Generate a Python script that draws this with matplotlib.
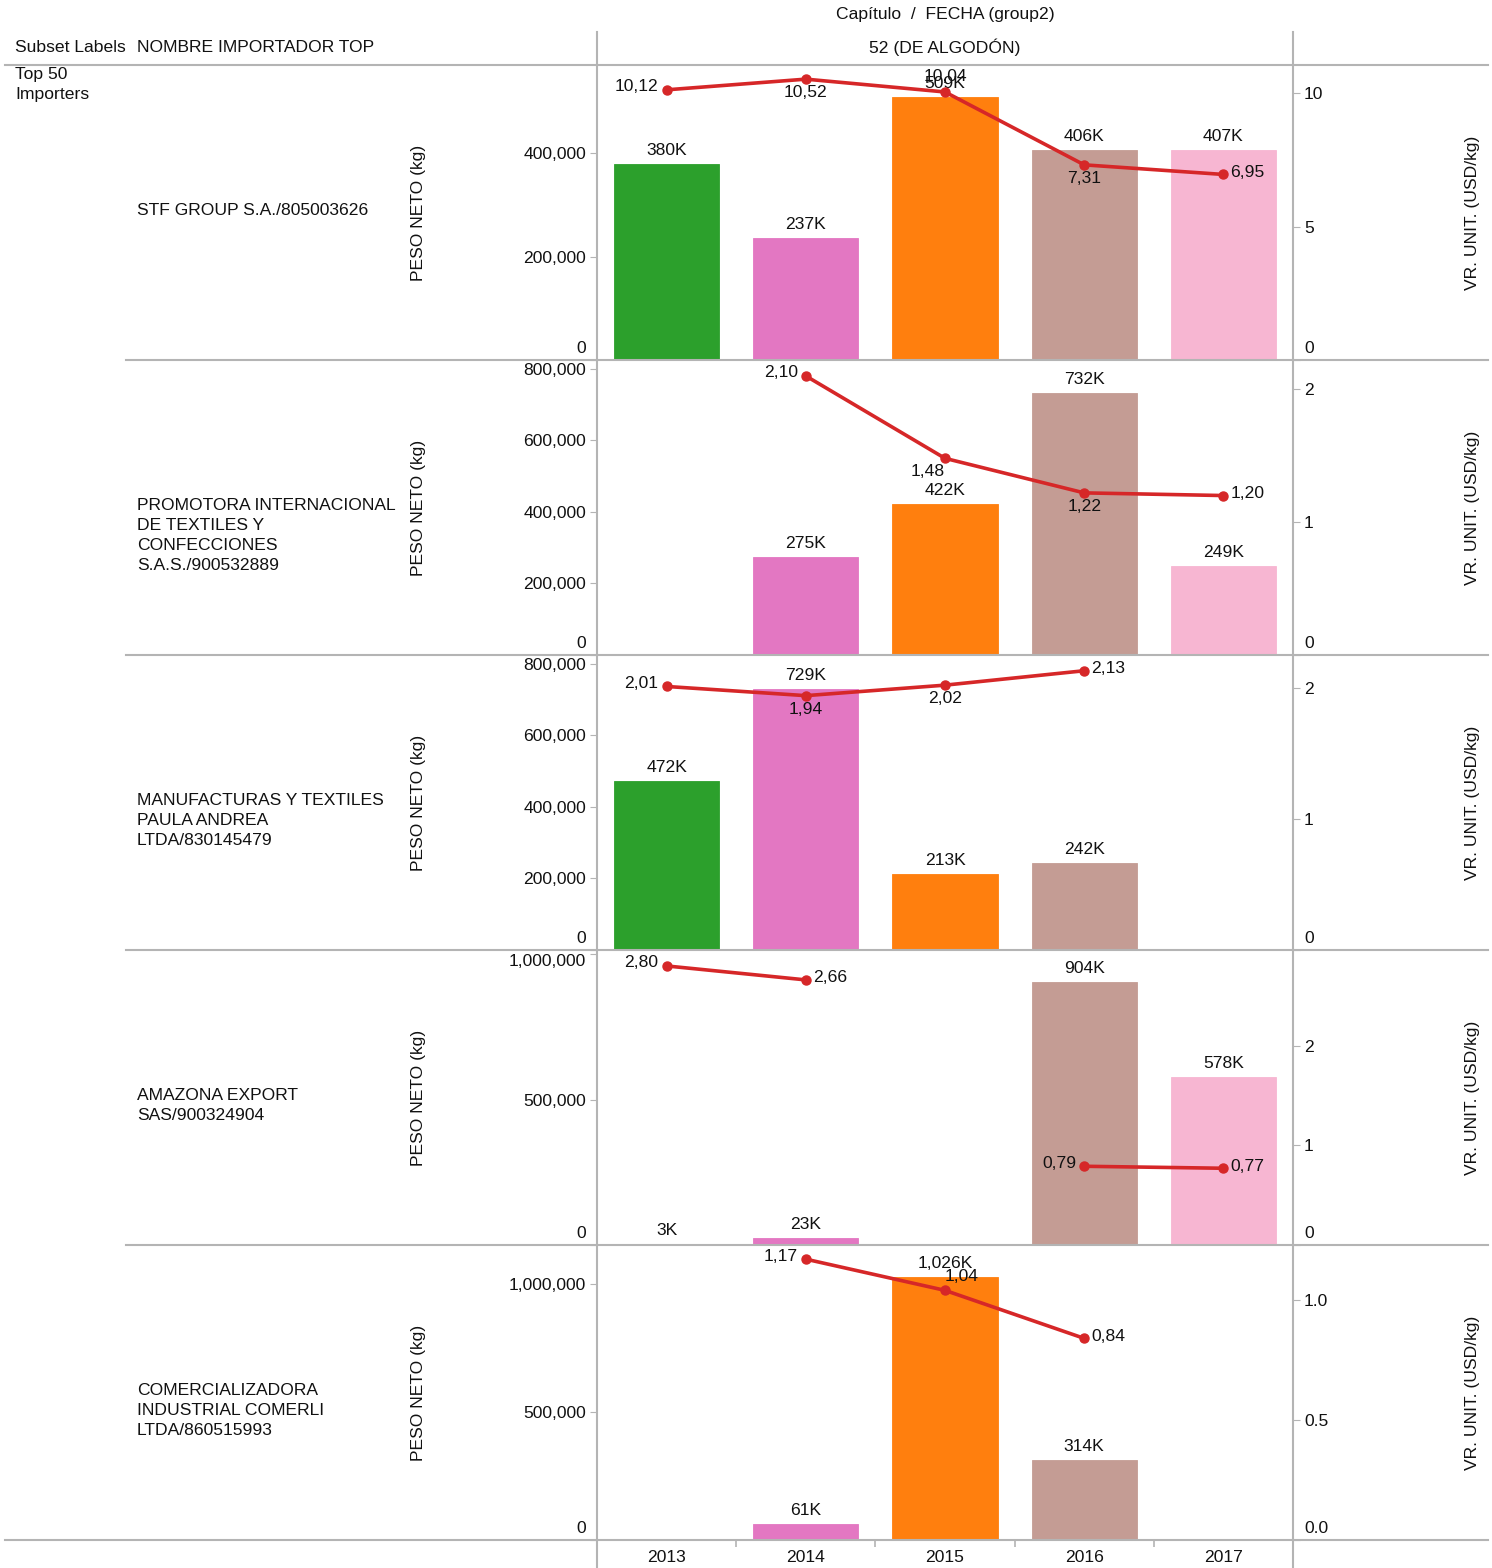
import numpy as np
import matplotlib.pyplot as plt
from matplotlib.lines import Line2D

plt.rcParams['font.family'] = ['Liberation Sans', 'DejaVu Sans']
plt.rcParams['font.size'] = 12.6

years = ['2013', '2014', '2015', '2016', '2017']
importers = ['STF GROUP S.A./805003626',
             'PROMOTORA INTERNACIONAL\nDE TEXTILES Y\nCONFECCIONES\nS.A.S./900532889',
             'MANUFACTURAS Y TEXTILES\nPAULA ANDREA\nLTDA/830145479',
             'AMAZONA EXPORT\nSAS/900324904',
             'COMERCIALIZADORA\nINDUSTRIAL COMERLI\nLTDA/860515993']

nan = np.nan
# peso neto (kg) por año
peso_stf = [380000, 237000, 509000, 406000, 407000]
peso_promotora = [nan, 275000, 422000, 732000, 249000]
peso_manufacturas = [472000, 729000, 213000, 242000, nan]
peso_amazona = [3000, 23000, nan, 904000, 578000]
peso_comerli = [nan, 61000, 1026000, 314000, nan]

# valor unitario (USD/kg)
vr_stf = [10.12, 10.52, 10.04, 7.31, 6.95]
vr_promotora = [nan, 2.10, 1.48, 1.22, 1.20]
vr_manufacturas = [2.01, 1.94, 2.02, 2.13, nan]
vr_amazona = [2.80, 2.66, nan, 0.79, 0.77]
vr_comerli = [nan, 1.17, 1.04, 0.84, nan]

peso = [peso_stf, peso_promotora, peso_manufacturas, peso_amazona, peso_comerli]
vr = [vr_stf, vr_promotora, vr_manufacturas, vr_amazona, vr_comerli]

left_ticks = [[0, 200000, 400000],
              [0, 200000, 400000, 600000, 800000],
              [0, 200000, 400000, 600000, 800000],
              [0, 500000, 1000000],
              [0, 500000, 1000000]]
right_ticks = [[0, 5, 10], [0, 1, 2], [0, 1, 2], [0, 1, 2], [0, 0.5, 1.0]]

# styling / layout
left_lim = [571000, 825000, 825000, 1014000, 1152000]
right_lim = [11.05, 2.22, 2.25, 2.96, 1.229]
label_pos = [['L', 'B', 'A', 'B', 'R'],
             [None, 'L', 'BL', 'B', 'R'],
             ['L', 'B', 'B', 'R', None],
             ['L', 'R', None, 'L', 'R'],
             [None, 'L', 'AR', 'R', None]]
bar_colors = ['#2ca02c', '#e377c2', '#ff7f0e', '#c49c94', '#f7b6d2']
line_color = '#d62728'
grid_c = '#b4b4b4'
txt_c = '#111111'

W, H = 1492, 1568
fig = plt.figure(figsize=(W / 100, H / 100), dpi=100)

def fx(px):
    return px / W

def fy(py):
    return 1 - py / H

def hline(y, x0, x1):
    fig.add_artist(Line2D([fx(x0), fx(x1)], [fy(y), fy(y)], color=grid_c, lw=1.5, zorder=5))

def vline(x, y0, y1):
    fig.add_artist(Line2D([fx(x), fx(x)], [fy(y0), fy(y1)], color=grid_c, lw=1.5, zorder=5))

offsets = {'L': (-8, 3, 'right', 'center'),
           'R': (7, 2, 'left', 'center'),
           'A': (0, 8, 'center', 'bottom'),
           'B': (0, -6, 'center', 'top'),
           'BL': (-17, -6, 'center', 'top'),
           'AR': (17, 6, 'center', 'bottom')}

row_tops = [65, 360, 655, 950, 1245]
row_h = 295
x = np.arange(len(years))

for i in range(5):
    top = row_tops[i]
    ax = fig.add_axes([fx(597), fy(top + row_h), fx(1293) - fx(597), row_h / H])
    ax2 = ax.twinx()
    vals = np.array(peso[i], dtype=float)
    ax.bar(x, np.nan_to_num(vals), width=0.755, color=bar_colors,
           edgecolor=bar_colors, linewidth=0.6)
    for xi, v in zip(x, vals):
        if not np.isnan(v):
            ax.annotate(f'{v / 1000:,.0f}K', (xi, v), xytext=(0, 6), textcoords='offset pixels',
                        ha='center', va='bottom', color=txt_c)
    ax.set_xlim(-0.5, 4.5)
    ax.set_ylim(0, left_lim[i])
    ax.set_yticks(left_ticks[i])
    ax.set_yticklabels([''] + [f'{t:,}' for t in left_ticks[i][1:]])
    ax.tick_params(axis='y', length=5, color=grid_c, pad=3, labelcolor=txt_c)
    ax.annotate('0', (0, 0), xycoords=('axes fraction', 'data'), xytext=(-11, 4),
                textcoords='offset pixels', ha='right', va='bottom', color=txt_c)
    if i == 3:
        ax.get_yticklabels()[-1].set_va('top')

    v2 = np.array(vr[i], dtype=float)
    ax2.plot(x, v2, color=line_color, lw=2.6, marker='o', ms=6.5, zorder=3)
    for xi, v, p in zip(x, v2, label_pos[i]):
        if p is not None and not np.isnan(v):
            dx, dy, ha, va = offsets[p]
            ax2.annotate(f'{v:.2f}'.replace('.', ','), (xi, v), xytext=(dx, dy),
                         textcoords='offset pixels', ha=ha, va=va, color=txt_c)
    ax2.set_ylim(0, right_lim[i])
    ax2.set_yticks(right_ticks[i])
    fmt = '{:.1f}' if i == 4 else '{:g}'
    ax2.set_yticklabels([''] + [fmt.format(t) for t in right_ticks[i][1:]])
    ax2.tick_params(axis='y', length=5, color=grid_c, pad=3, labelcolor=txt_c)
    ax2.annotate(fmt.format(0), (1, 0), xycoords=('axes fraction', 'data'), xytext=(11, 4),
                 textcoords='offset pixels', ha='left', va='bottom', color=txt_c)

    for a in (ax, ax2):
        for s in a.spines.values():
            s.set_visible(False)
        a.patch.set_visible(False)

    if i == 4:
        ax.set_xticks(x)
        ax.set_xticklabels(years)
        ax.set_xticks([0.5, 1.5, 2.5, 3.5], minor=True)
        ax.tick_params(axis='x', which='major', length=0, pad=7, labelcolor=txt_c)
        ax.tick_params(axis='x', which='minor', length=5, color=grid_c, width=1.2)
    else:
        ax.set_xticks([])

    # row texts
    fig.text(fx(137), fy(top + 138), importers[i], ha='left', va='top', color=txt_c,
             linespacing=1.42)
    fig.text(fx(418), fy(top + row_h / 2), 'PESO NETO (kg)', rotation=90,
             ha='center', va='center', color=txt_c)
    fig.text(fx(1472), fy(top + row_h / 2), 'VR. UNIT. (USD/kg)', rotation=90,
             ha='center', va='center', color=txt_c)
    if i > 0:
        hline(top, 126, 1488)

# headers
fig.text(fx(945), fy(15), 'Capítulo  /  FECHA (group2)', ha='center', va='center', color=txt_c)
fig.text(fx(15), fy(47), 'Subset Labels', ha='left', va='center', color=txt_c)
fig.text(fx(137), fy(47), 'NOMBRE IMPORTADOR TOP', ha='left', va='center', color=txt_c)
fig.text(fx(945), fy(47), '52 (DE ALGODÓN)', ha='center', va='center', color=txt_c)
fig.text(fx(15), fy(67), 'Top 50\nImporters', ha='left', va='top', color=txt_c, linespacing=1.42)

hline(65, 5, 1488)
hline(1540, 5, 1488)
vline(597, 32, 1568)
vline(1293, 32, 1568)

fig.savefig('out.png', dpi=100)
